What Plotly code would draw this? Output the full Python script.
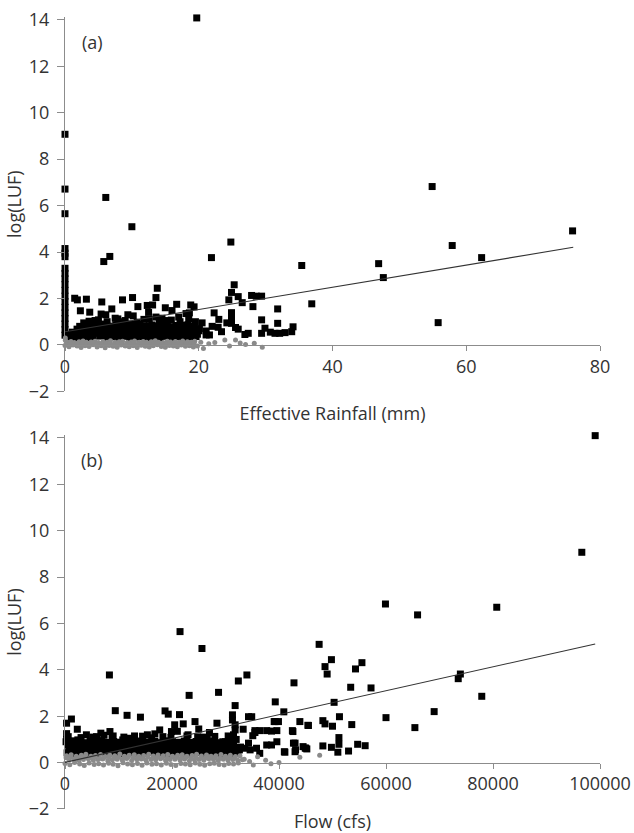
import plotly.graph_objects as go

# ---------------- Panel (a): effective rainfall vs log(LUF) ----------------
# events with zero effective rainfall
rain_zero_x = [0, 0, 0, 0, 0, 0, 0, 0, 0, 0,
               0, 0, 0, 0, 0, 0, 0, 0, 0]
rain_zero_y = [9.07, 6.71, 5.65, 4.15, 3.95, 3.8, 3.3, 3.08, 2.85, 2.6,
               2.35, 2.1, 1.87, 1.62, 1.38, 1.14, 0.9, 0.66, 0.42]

rain_high_x = [19.7, 6.1, 10.0, 5.8, 6.7, 21.9, 24.8, 35.4, 36.9, 54.9,
               75.9, 57.9, 62.3, 46.9, 47.6, 55.8]
rain_high_y = [14.08, 6.35, 5.09, 3.59, 3.81, 3.76, 4.43, 3.42, 1.77, 6.82,
               4.91, 4.28, 3.76, 3.5, 2.9, 0.96]

rain_mid_x = [1.45, 1.85, 3.2, 5.5, 8.6, 10.1, 13.8, 13.6, 2.3, 3.7,
              10.9, 12.3, 13.1, 16.7, 16.0, 5.4, 6.1, 9.4, 10.2, 13.6,
              25.3, 24.9, 24.5, 25.9, 26.5, 27.9, 28.6, 29.4, 28.1, 31.8,
              22.3, 24.9, 24.9, 18.8, 19.3, 18.1, 18.6, 29.4, 31.8, 24.2,
              24.9, 25.5, 25.9, 22.9, 23.4, 29.9, 30.7, 31.4, 32.1, 32.9,
              33.9, 34.1, 29.4, 26.9, 27.4, 21.1, 21.6, 21.1, 20.1, 17.0,
              15.3, 14.5, 11.8, 7.5, 8.2, 4.5, 2.8, 19.5, 20.5, 17.5,
              22.0, 23.0, 12.5, 15.0, 7.0, 9.8]
rain_mid_y = [2.01, 1.94, 1.97, 1.85, 1.94, 2.04, 2.44, 2.04, 1.47, 1.41,
              1.65, 1.7, 1.72, 1.75, 1.48, 1.33, 1.3, 1.3, 1.25, 1.2,
              2.59, 2.26, 1.94, 2.08, 1.82, 2.13, 2.1, 2.1, 1.65, 1.55,
              1.38, 1.39, 1.22, 1.72, 1.64, 1.35, 1.38, 1.08, 0.93, 0.95,
              0.93, 0.75, 0.68, 0.76, 0.57, 0.72, 0.55, 0.5, 0.5, 0.53,
              0.57, 0.78, 0.5, 0.45, 0.5, 0.43, 0.43, 0.6, 0.7, 1.2,
              1.05, 1.15, 1.1, 1.15, 1.0, 1.05, 0.95, 1.0, 0.95, 0.85,
              0.8, 1.1, 1.4, 1.6, 1.55, 0.9]

rain_low_x = [0.7, 1.6, 2.5, 3.4, 4.2, 5.2, 6.1, 7.0, 7.9, 8.8,
              9.7, 10.6, 11.5, 12.4, 13.3, 14.2, 15.1, 16.0, 16.9, 17.8,
              18.7, 19.6,
              1.1, 2.0, 2.9, 3.8, 4.7, 5.6, 6.5, 7.4, 8.3, 9.2,
              10.1, 11.0, 11.9, 12.8, 13.7, 14.6, 15.5, 16.4, 17.3, 18.2,
              19.1, 20.0,
              2.2, 3.1, 4.0, 4.9, 5.8, 6.7, 7.6, 8.5, 9.4, 10.3,
              11.2, 12.1, 13.0, 13.9, 14.8, 15.7, 16.6, 17.5, 18.4, 19.3,
              3.6, 5.0, 6.3, 7.9, 9.0, 10.8, 12.6, 14.1, 15.9, 17.2,
              18.5]
rain_low_y = [0.34, 0.3, 0.36, 0.31, 0.33, 0.38, 0.3, 0.35, 0.32, 0.37,
              0.3, 0.34, 0.36, 0.31, 0.33, 0.3, 0.37, 0.32, 0.35, 0.3,
              0.34, 0.36,
              0.55, 0.6, 0.57, 0.62, 0.56, 0.59, 0.63, 0.55, 0.6, 0.58,
              0.61, 0.56, 0.6, 0.64, 0.57, 0.59, 0.55, 0.62, 0.58, 0.6,
              0.56, 0.61,
              0.8, 0.86, 0.78, 0.84, 0.9, 0.81, 0.87, 0.79, 0.85, 0.83,
              0.88, 0.8, 0.86, 0.82, 0.89, 0.78, 0.84, 0.81, 0.87, 0.8,
              1.02, 1.08, 1.0, 1.12, 1.05, 0.98, 1.1, 1.03, 1.07, 1.0,
              1.12]

rain_core_x = [0.9, 1.8, 2.7, 3.6, 4.5, 5.4, 6.3, 7.2, 8.1, 9.0,
               9.9, 10.8, 11.7, 12.6, 13.5, 14.4, 15.3, 16.2, 17.1, 18.0,
               18.9, 19.8,
               1.8, 2.6, 3.5, 4.4, 5.3, 6.2, 7.1, 8.0, 8.9, 9.8,
               10.7, 11.6, 12.5, 13.4, 14.3, 15.2, 16.1, 17.0, 17.9, 18.8,
               19.7]
rain_core_y = [0.45, 0.48, 0.43, 0.47, 0.5, 0.44, 0.46, 0.49, 0.43, 0.47,
               0.45, 0.5, 0.44, 0.48, 0.46, 0.43, 0.49, 0.45, 0.47, 0.44,
               0.48, 0.46,
               0.68, 0.72, 0.7, 0.74, 0.69, 0.71, 0.67, 0.73, 0.7, 0.72,
               0.68, 0.74, 0.69, 0.71, 0.73, 0.67, 0.7, 0.72, 0.69, 0.74,
               0.7]

# near-zero LUF events (grey)
rain_base_x = [0.3, 0.9, 1.4, 2.1, 2.7, 3.2, 3.9, 4.5, 5.0, 5.7,
               6.3, 6.8, 7.5, 8.1, 8.6, 9.3, 9.9, 10.4, 11.1, 11.7,
               12.2, 12.9, 13.5, 14.0, 14.7, 15.3, 15.8, 16.5, 17.1, 17.6,
               18.3, 18.9, 19.4,
               0.0, 0.6, 1.2, 1.8, 2.4, 3.0, 3.6, 4.2, 4.8, 5.4,
               6.0, 6.6, 7.2, 7.8, 8.4, 9.0, 9.6, 10.2, 10.8, 11.4,
               12.0, 12.6, 13.2, 13.8, 14.4, 15.0, 15.6, 16.2, 16.8, 17.4,
               18.0, 18.6, 19.2, 19.8,
               20.3, 20.7, 21.5, 22.4, 23.9, 24.6, 25.5, 26.2, 27.0, 28.3,
               29.5, 0.05, 0.05]
rain_base_y = [0.12, 0.15, 0.1, 0.14, 0.17, 0.11, 0.13, 0.16, 0.1, 0.15,
               0.12, 0.18, 0.11, 0.14, 0.16, 0.1, 0.13, 0.17, 0.12, 0.15,
               0.11, 0.14, 0.18, 0.12, 0.1, 0.16, 0.13, 0.15, 0.11, 0.17,
               0.14, 0.12, 0.16,
               -0.02, -0.08, 0.0, -0.05, -0.11, -0.03, -0.07, 0.01, -0.09, -0.04,
               -0.12, -0.02, -0.06, -0.1, 0.0, -0.05, -0.08, -0.03, -0.11, -0.01,
               -0.06, -0.09, -0.04, 0.01, -0.07, -0.1, -0.02, -0.05, -0.08, 0.0,
               -0.06, -0.03, -0.09, -0.05,
               0.12, -0.15, 0.05, 0.1, 0.21, -0.05, 0.21, 0.08, 0.02, 0.07,
               -0.1, 0.3, 0.2]
rain_base2_x = [0.2, 0.8, 1.3, 1.9, 2.5, 3.1, 3.7, 4.3, 4.9, 5.5,
                6.1, 6.7, 7.3, 7.9, 8.5, 9.1, 9.7, 10.3, 10.9, 11.5,
                12.1, 12.7, 13.3, 13.9, 14.5, 15.1, 15.7, 16.3, 16.9, 17.5,
                18.1, 18.7, 19.3]
rain_base2_y = [0.04, 0.06, 0.02, 0.05, 0.07, 0.03, 0.05, 0.08, 0.02, 0.06,
                0.04, 0.07, 0.03, 0.05, 0.06, 0.02, 0.04, 0.07, 0.03, 0.05,
                0.06, 0.02, 0.04, 0.08, 0.03, 0.05, 0.06, 0.04, 0.02, 0.07,
                0.05, 0.03, 0.06]

rain_fit_x = [0, 76]
rain_fit_intercept = 0.57
rain_fit_slope = 0.0478

# ---------------- Panel (b): flow vs log(LUF) ----------------
flow_high_x = [99100, 96600, 59900, 65900, 80700, 47500, 49800, 48600, 49000, 55500,
               54300, 73900, 73500, 77900, 53400, 57200, 50300, 69000, 60000, 65400,
               51300, 48200, 48600, 50000, 53600, 45500, 43900, 51200, 51200, 48200,
               49800, 51000, 53000, 54700, 56100, 44900, 45200, 21500, 25600, 8300,
               34000, 32400, 42800, 23200, 28700, 39300, 9400, 11600, 14100, 18700,
               19300, 21400, 31800, 40900, 39300, 42600, 42700, 43100, 41100]
flow_high_y = [14.1, 9.07, 6.84, 6.37, 6.7, 5.1, 4.44, 4.14, 3.82, 4.31,
               4.04, 3.82, 3.62, 2.86, 3.25, 3.22, 2.6, 2.2, 1.94, 1.51,
               1.98, 1.81, 1.67, 1.57, 1.64, 1.6, 1.77, 1.08, 0.79, 0.72,
               0.66, 0.45, 0.5, 0.79, 0.73, 0.63, 0.59, 5.65, 4.92, 3.78,
               3.78, 3.52, 3.44, 2.9, 3.03, 2.62, 2.24, 2.04, 1.96, 2.23,
               2.09, 2.07, 2.46, 2.19, 1.77, 1.34, 0.84, 0.55, 0.45]

flow_mid_x = [1200, 300, 2300, 300, 300, 6700, 5900, 8400, 17700, 19900,
              20500, 22100, 15400, 16800, 10800, 2400, 24300, 28400, 31800, 31800,
              33300, 35500, 36400, 37700, 38600, 39600, 35100, 35500, 42500, 37700,
              38600, 39600, 43000, 41000, 43000, 44500, 45000, 33600, 34600, 34300,
              35800, 36400, 31300, 31300, 34300, 34900, 39100, 39900, 45400, 31500,
              31500, 31500, 32000, 30500, 29500, 27000, 26000, 25000, 23000, 21000,
              13000, 12000, 4000, 9000]
flow_mid_y = [1.88, 1.7, 1.44, 1.25, 1.0, 1.27, 1.12, 1.34, 1.41, 1.34,
              1.63, 1.67, 1.2, 1.24, 0.98, 0.98, 1.77, 1.7, 1.63, 1.41,
              1.44, 1.38, 1.38, 1.38, 1.36, 1.38, 1.16, 1.3, 1.38, 0.76,
              0.76, 0.9, 0.84, 0.47, 0.47, 0.69, 0.62, 0.62, 0.55, 0.84,
              0.62, 0.4, 2.06, 1.84, 1.98, 1.98, 1.77, 1.77, 1.61, 1.2,
              0.95, 0.7, 1.0, 1.15, 0.9, 1.3, 1.1, 1.45, 1.2, 1.35,
              1.15, 1.05, 1.2, 1.15]

flow_low_x = [400, 1500, 2600, 3700, 4800, 5900, 7000, 8100, 9200, 10300,
              11400, 12500, 13600, 14700, 15800, 16900, 18000, 19100, 20200, 21300,
              22400, 23500, 24600, 25700, 26800, 27900, 29000, 30100, 31200, 32300,
              900, 2000, 3100, 4200, 5300, 6400, 7500, 8600, 9700, 10800,
              11900, 13000, 14100, 15200, 16300, 17400, 18500, 19600, 20700, 21800,
              22900, 24000, 25100, 26200, 27300, 28400, 29500, 30600, 31700, 32800,
              200, 1400, 2500, 3600, 4700, 5800, 6900, 8000, 9100, 10200,
              11300, 12400, 13500, 14600, 15700, 16800, 17900, 19000, 20100, 21200,
              22300, 23400, 24500, 25600, 26700, 27800, 28900, 30000, 31100,
              600, 3000, 5200, 7300, 8800, 11000, 14500, 16200, 18300, 19800,
              22800, 24800, 26600, 28000, 30800]
flow_low_y = [0.42, 0.38, 0.45, 0.4, 0.44, 0.37, 0.43, 0.41, 0.46, 0.39,
              0.42, 0.44, 0.38, 0.41, 0.45, 0.4, 0.43, 0.37, 0.42, 0.46,
              0.39, 0.41, 0.44, 0.38, 0.42, 0.45, 0.4, 0.43, 0.39, 0.41,
              0.66, 0.62, 0.69, 0.64, 0.67, 0.71, 0.63, 0.68, 0.65, 0.7,
              0.62, 0.66, 0.69, 0.64, 0.68, 0.63, 0.7, 0.66, 0.65, 0.71,
              0.64, 0.67, 0.62, 0.69, 0.66, 0.7, 0.63, 0.68, 0.65, 0.67,
              0.9, 0.94, 0.88, 0.86, 0.92, 0.89, 0.95, 0.87, 0.91, 0.88,
              0.85, 0.9, 0.93, 0.87, 0.89, 0.92, 0.86, 0.94, 0.9, 0.88,
              0.93, 0.87, 0.91, 0.95, 0.89, 0.92, 0.86, 0.9, 0.94,
              1.12, 1.08, 1.1, 1.18, 1.05, 1.1, 1.14, 1.07, 1.12, 1.09,
              1.15, 1.11, 1.06, 1.13, 1.1]

flow_core_x = [700, 1800, 2900, 4000, 5100, 6200, 7300, 8400, 9500, 10600,
               11700, 12800, 13900, 15000, 16100, 17200, 18300, 19400, 20500, 21600,
               22700, 23800, 24900, 26000, 27100, 28200, 29300, 30400, 31500, 32600,
               500, 1700, 2800, 3900, 5000, 6100, 7200, 8300, 9400, 10500,
               11600, 12700, 13800, 14900, 16000, 17100, 18200, 19300, 20400, 21500,
               22600, 23700, 24800, 25900, 27000, 28100, 29200, 30300, 31400]
flow_core_y = [0.53, 0.56, 0.51, 0.55, 0.52, 0.57, 0.54, 0.5, 0.56, 0.53,
               0.55, 0.51, 0.57, 0.54, 0.52, 0.56, 0.53, 0.55, 0.5, 0.54,
               0.57, 0.52, 0.55, 0.53, 0.56, 0.51, 0.54, 0.57, 0.52, 0.55,
               0.78, 0.81, 0.76, 0.8, 0.77, 0.83, 0.79, 0.75, 0.82, 0.78,
               0.8, 0.76, 0.81, 0.79, 0.77, 0.82, 0.78, 0.8, 0.76, 0.83,
               0.79, 0.77, 0.81, 0.78, 0.8, 0.75, 0.82, 0.79, 0.77]

# near-zero LUF events (grey)
flow_base_x = [300, 1150, 2100, 3050, 3900, 4850, 5700, 6650, 7500, 8350,
               9300, 10250, 11100, 12000, 12950, 13800, 14700, 15650, 16500, 17400,
               18350, 19200, 20100, 21050, 21900, 22800, 23750, 24600, 25500, 26450,
               27300, 28200, 29150, 30000, 30900, 31850, 32700,
               750, 1650, 2600, 3450, 4350, 5300, 6150, 7050, 8000, 8850,
               9750, 10700, 11550, 12450, 13400, 14250, 15150, 16100, 16950, 17850,
               18800, 19650, 20550, 21500, 22350, 23250, 24200, 25050, 25950, 26900,
               27750, 28650, 29600, 30450, 31350, 32300, 33150,
               0, 900, 1800, 2750, 3600, 4500, 5450, 6300, 7200, 8150,
               9000, 9900, 10850, 11700, 12600, 13550, 14400, 15300, 16250, 17100,
               18000, 18950, 19800, 20700, 21650, 22500, 23400, 24350, 25200, 26100,
               27050, 27900, 28800, 29750, 30600, 31500, 32400,
               33500, 34500, 35200, 36000, 37500, 38500, 40000, 43900, 47600]
flow_base_y = [0.3, 0.34, 0.27, 0.32, 0.36, 0.28, 0.31, 0.35, 0.26, 0.33,
               0.3, 0.37, 0.28, 0.32, 0.34, 0.27, 0.31, 0.36, 0.29, 0.33,
               0.3, 0.35, 0.27, 0.32, 0.34, 0.28, 0.31, 0.36, 0.29, 0.33,
               0.27, 0.3, 0.35, 0.28, 0.32, 0.26, 0.3,
               0.12, 0.15, 0.09, 0.14, 0.17, 0.1, 0.13, 0.16, 0.08, 0.12,
               0.15, 0.11, 0.18, 0.09, 0.13, 0.16, 0.1, 0.14, 0.12, 0.17,
               0.09, 0.13, 0.15, 0.11, 0.16, 0.08, 0.12, 0.14, 0.1, 0.17,
               0.13, 0.09, 0.15, 0.11, 0.14, 0.1, 0.12,
               -0.04, -0.09, 0.0, -0.06, -0.12, -0.02, -0.08, -0.05, -0.1, -0.03,
               -0.07, -0.13, -0.01, -0.06, -0.09, -0.04, -0.11, -0.02, -0.07, -0.05,
               -0.1, -0.03, -0.08, -0.12, -0.04, -0.06, -0.09, -0.02, -0.07, -0.11,
               -0.05, -0.03, -0.08, -0.1, -0.04, -0.06, -0.02,
               0.15, 0.05, -0.1, 0.25, 0.1, -0.05, 0.0, 0.23, 0.32]
flow_base2_x = [200, 1050, 1950, 2850, 3750, 4650, 5550, 6450, 7350, 8250,
                9150, 10050, 10950, 11850, 12750, 13650, 14550, 15450, 16350, 17250,
                18150, 19050, 19950, 20850, 21750, 22650, 23550, 24450, 25350, 26250,
                27150, 28050, 28950, 29850, 30750, 31650]
flow_base2_y = [0.21, 0.24, 0.19, 0.22, 0.25, 0.2, 0.23, 0.18, 0.22, 0.24,
                0.2, 0.23, 0.19, 0.25, 0.21, 0.22, 0.18, 0.24, 0.2, 0.23,
                0.21, 0.19, 0.25, 0.22, 0.2, 0.24, 0.18, 0.23, 0.21, 0.2,
                0.24, 0.22, 0.19, 0.23, 0.21, 0.2]

flow_fit_x = [0, 99100]
flow_fit_intercept = 0.01
flow_fit_slope = 5.15e-5

# ---------------- styling ----------------
FONT = "Open Sans"
AXIS_GREY = "#8c8c8c"
TEXT = "#333333"
SQUARE = dict(symbol="square", size=7, color="black")
DOT = dict(symbol="circle", size=5, color="#8a8a8a")

# y-domains of the two panels (paper fractions)
top_dom = [0.5273, 1.0]
bot_dom = [0.0, 0.4720]
y_lo, y_hi = -2, 14.12


def zero_position(dom):
    """Paper fraction at which log(LUF) = 0 inside a panel."""
    return dom[0] + (dom[1] - dom[0]) * (0 - y_lo) / (y_hi - y_lo)


fig = go.Figure()


def add_panel(black_sets, grey_sets, fit_x, b0, b1, xa, ya):
    for xs, ys in black_sets:
        fig.add_trace(go.Scatter(x=xs, y=ys, mode="markers", marker=SQUARE,
                                 xaxis=xa, yaxis=ya, cliponaxis=False,
                                 showlegend=False, hoverinfo="x+y"))
    for xs, ys in grey_sets:
        fig.add_trace(go.Scatter(x=xs, y=ys, mode="markers", marker=DOT,
                                 xaxis=xa, yaxis=ya, cliponaxis=False,
                                 showlegend=False, hoverinfo="x+y"))
    fit_y = [b0 + b1 * v for v in fit_x]
    fig.add_trace(go.Scatter(x=fit_x, y=fit_y, mode="lines",
                             line=dict(color="#333333", width=1.1),
                             xaxis=xa, yaxis=ya, showlegend=False,
                             hoverinfo="skip"))


add_panel([(rain_zero_x, rain_zero_y), (rain_high_x, rain_high_y),
           (rain_mid_x, rain_mid_y), (rain_low_x, rain_low_y),
           (rain_core_x, rain_core_y)],
          [(rain_base_x, rain_base_y), (rain_base2_x, rain_base2_y)],
          rain_fit_x, rain_fit_intercept, rain_fit_slope, "x", "y")

add_panel([(flow_high_x, flow_high_y), (flow_mid_x, flow_mid_y),
           (flow_low_x, flow_low_y), (flow_core_x, flow_core_y)],
          [(flow_base_x, flow_base_y), (flow_base2_x, flow_base2_y)],
          flow_fit_x, flow_fit_intercept, flow_fit_slope, "x2", "y2")

tick_font = dict(family=FONT, size=18, color=TEXT)
title_font = dict(family=FONT, size=18, color=TEXT)

common_x = dict(showline=True, linecolor=AXIS_GREY, linewidth=1.2,
                ticks="outside", ticklen=5, tickcolor=AXIS_GREY, tickwidth=1.2,
                showgrid=False, zeroline=False, tickfont=tick_font,
                anchor="free", domain=[0, 1], automargin=False)
common_y = dict(showline=True, linecolor=AXIS_GREY, linewidth=1.2,
                ticks="outside", ticklen=7, tickcolor=AXIS_GREY, tickwidth=1.2,
                showgrid=False, zeroline=False, tickfont=tick_font,
                ticklabelstandoff=4, automargin=False,
                range=[y_lo, y_hi], tickvals=list(range(-2, 15, 2)))

fig.update_layout(
    width=634, height=833,
    margin=dict(l=65, r=34, t=17, b=24, autoexpand=False),
    paper_bgcolor="white", plot_bgcolor="white",
    font=dict(family=FONT, color=TEXT),
    xaxis=dict(common_x, range=[0, 80], tickvals=[0, 20, 40, 60, 80],
               position=zero_position(top_dom),
               title=dict(text="Effective Rainfall (mm)", font=title_font,
                          standoff=30)),
    yaxis=dict(common_y, domain=top_dom, anchor="x",
               title=dict(text="log(LUF)", font=title_font, standoff=2)),
    xaxis2=dict(common_x, range=[0, 100000],
                tickvals=[0, 20000, 40000, 60000, 80000, 100000],
                tickformat="d",
                position=zero_position(bot_dom),
                title=dict(text="Flow (cfs)", font=title_font, standoff=34)),
    yaxis2=dict(common_y, domain=bot_dom, anchor="x2",
                title=dict(text="log(LUF)", font=title_font, standoff=2)),
    annotations=[
        dict(text="(a)", x=0.0505, y=0.9337, xref="x domain", yref="y domain",
             xanchor="center", yanchor="middle", showarrow=False,
             font=dict(family=FONT, size=18, color=TEXT)),
        dict(text="(b)", x=0.0505, y=0.9336, xref="x2 domain", yref="y2 domain",
             xanchor="center", yanchor="middle", showarrow=False,
             font=dict(family=FONT, size=18, color=TEXT)),
    ],
)

fig.write_html("out.html")
